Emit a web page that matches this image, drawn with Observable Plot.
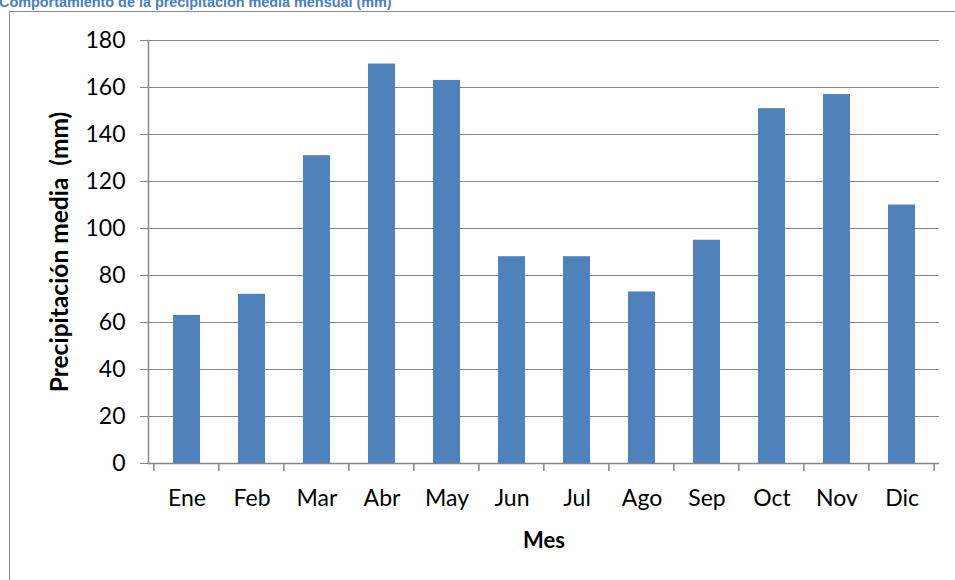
<!DOCTYPE html>
<html>
<head>
<meta charset="utf-8">
<script src="https://cdn.jsdelivr.net/npm/d3@7"></script>
<script src="https://cdn.jsdelivr.net/npm/@observablehq/plot@0.6"></script>
<style>
  html, body { margin: 0; padding: 0; background: #fff; overflow: hidden; }
  #wrap { position: relative; width: 955px; height: 580px; overflow: hidden; background: #fff; }
  #frame { position: absolute; left: 9px; top: 11px; width: 1200px; height: 1200px; border: 1.5px solid #8a8a8a; box-sizing: border-box; }
  #title { position: absolute; left: -1px; top: -5px; font: bold 14.4px "Liberation Sans", Arial, sans-serif; line-height: 14.4px; color: #4a7ebb; white-space: nowrap; }
  #chart { position: absolute; left: 0; top: 0; }
  #chart svg text { white-space: pre; }
</style>
</head>
<body>
<div id="wrap">
  <div id="frame"></div>
  <div id="chart"></div>
  <div id="title">Comportamiento de la precipitación media mensual (mm)</div>
</div>
<script>
const months = ["Ene", "Feb", "Mar", "Abr", "May", "Jun", "Jul", "Ago", "Sep", "Oct", "Nov", "Dic"];
const precip = [63, 72, 131, 170, 163, 88, 88, 73, 95, 151, 157, 110];
const yTicks = [0, 20, 40, 60, 80, 100, 120, 140, 160, 180];
const xTitle = "Mes";
const yTitle = "Precipitación media  (mm)";

const data = months.map((m, i) => ({month: m, value: precip[i]}));

const W = 955, H = 580;
const mL = 148, mR = 16, mT = 40, mB = 117;
const gray = "#868686";
const font = "Lato, 'Open Sans', sans-serif";

const plot = Plot.plot({
  width: W,
  height: H,
  marginLeft: mL,
  marginRight: mR,
  marginTop: mT,
  marginBottom: mB,
  style: {fontFamily: font, fontSize: "23px", color: "black", background: "transparent", overflow: "visible"},
  x: {domain: months, paddingInner: 0.59, paddingOuter: 0.295, axis: null},
  y: {domain: [0, 180], axis: null},
  marks: [
    Plot.ruleY(yTicks, {stroke: gray, strokeWidth: 1}),
    Plot.barY(data, {x: "month", y: "value", fill: "#4f81bd"}),
    Plot.axisY({ticks: yTicks, tickSize: 8, tickPadding: 15, stroke: gray, fill: "black", fontSize: 23, label: null}),
    Plot.axisX({tickSize: 0, tickPadding: 26, fill: "black", fontSize: 23, label: null}),
    Plot.frame({anchor: "left", stroke: gray, strokeWidth: 1.5}),
    Plot.ruleY([0], {stroke: gray, strokeWidth: 1.5}),
    Plot.text([xTitle], {frameAnchor: "bottom", dy: 77, lineAnchor: "middle", textAnchor: "middle", fontWeight: "bold", fontSize: 22, fill: "black"}),
    Plot.text([yTitle], {frameAnchor: "left", dx: -88, rotate: -90, lineAnchor: "middle", textAnchor: "middle", fontWeight: "bold", fontSize: 24.5, fill: "black"})
  ]
});

document.getElementById("chart").appendChild(plot);

// category boundary ticks on the x axis, placed with the plot's own x scale
const sx = plot.scale("x");
const step = sx.step;
const gap = step * sx.paddingInner;
const bounds = months.map(m => sx.apply(m) - gap / 2);
bounds.push(sx.apply(months[months.length - 1]) + sx.bandwidth + gap / 2);
const y0 = plot.scale("y").apply(0);
d3.select(plot).append("g")
  .attr("stroke", gray)
  .attr("stroke-width", 1.5)
  .selectAll("line")
  .data(bounds)
  .join("line")
  .attr("x1", d => d).attr("x2", d => d)
  .attr("y1", y0).attr("y2", y0 + 8);
</script>
</body>
</html>
